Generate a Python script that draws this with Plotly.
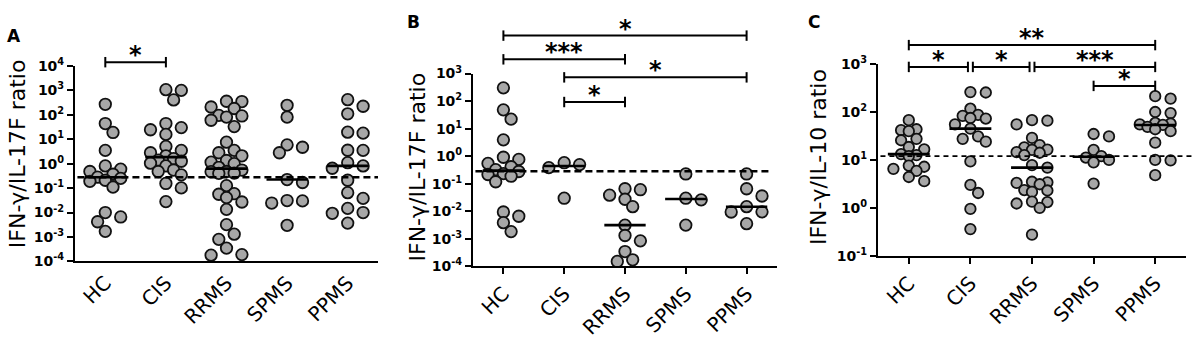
import numpy as np
import plotly.graph_objects as go

W, H = 1192, 351
groups = ["HC", "CIS", "RRMS", "SPMS", "PPMS"]

# ---------------- data (ratios) ----------------
# Panel A : IFN-γ/IL-17F ratio
a_hc = [270, 44, 19, 3.5, 0.81, 0.60, 0.48, 0.37, 0.28, 0.25, 0.21, 0.19, 0.11,
        0.010, 0.0066, 0.0042, 0.0017]
a_cis = [1070, 1000, 407, 44, 30, 24.5, 15.8, 5.1, 3.5, 2.8, 2.1, 1.6, 1.4, 1.26,
         1.05, 0.81, 0.55, 0.48, 0.35, 0.155, 0.102, 0.028]
a_rrms = [360, 350, 209, 182, 95, 90, 81, 60, 33, 7.6, 3.5, 2.8, 2.1, 1.35, 1.15, 1.0,
          0.71, 0.55, 0.48, 0.47, 0.41, 0.40, 0.126, 0.059, 0.056, 0.041, 0.027,
          0.0135, 0.0032, 0.0013, 0.0008, 0.00035, 0.00019, 0.00018]
a_spms = [245, 81, 5.9, 4.7, 2.8, 0.224, 0.17, 0.031, 0.030, 0.0245, 0.003]
a_ppms = [417, 224, 110, 19.5, 17.8, 3.55, 3.5, 1.1, 0.81, 0.65, 0.21, 0.065, 0.038,
          0.0148, 0.010, 0.0093, 0.0037]
a_ref = 0.28
a_sig = [(0, 1, "*")]

# Panel B : IFN-γ/IL-17F ratio
b_hc = [302, 48, 22, 3.9, 0.91, 0.76, 0.54, 0.41, 0.32, 0.275, 0.23, 0.214, 0.186,
        0.117, 0.0093, 0.0065, 0.0038, 0.0018]
b_cis = [0.575, 0.49, 0.38, 0.0295]
b_rrms = [0.065, 0.060, 0.038, 0.027, 0.0145, 0.0031, 0.0013, 0.00083, 0.00034,
          0.00017, 0.000148]
b_spms = [0.224, 0.0295, 0.0257, 0.0031]
b_ppms = [0.224, 0.065, 0.0355, 0.0145, 0.0093, 0.0094, 0.0035]
b_ref = 0.28
b_sig = [(0, 4, "*"), (0, 2, "***"), (1, 4, "*"), (1, 2, "*")]

# Panel C : IFN-γ/IL-10 ratio
c_hc = [67.6, 43.6, 41.7, 39.8, 27.5, 25.7, 18.6, 16.6, 13.2, 12.6, 12.0, 7.6, 7.2,
        6.5, 5.9, 4.4, 3.6]
c_cis = [260, 255, 117, 87, 83, 75, 73, 55, 45, 31, 27.5, 24, 9.3, 3.0, 2.04, 0.95, 0.36]
c_rrms = [67.6, 66, 55, 28.8, 20.4, 18.2, 16.2, 16.4, 14.5, 14.1, 12.6, 7.8, 6.9, 3.5,
          3.4, 3.3, 3.1, 2.35, 2.3, 2.15, 1.35, 1.32, 1.23, 1.0, 0.275]
c_spms = [34.7, 30.9, 16.2, 12.0, 11.2, 10.0, 8.9, 3.2]
c_ppms = [214, 190, 100, 95, 59, 57.5, 55, 53.7, 49, 43.6, 39.8, 22.9, 10.0, 9.8, 4.8]
c_ref = 12
c_sig = [(0, 4, "**"), (0, 1, "*"), (1, 2, "*"), (2, 4, "***"), (3, 4, "*")]

# ---------------- layout geometry (pixels) ----------------
panels = [
    dict(data=[a_hc, a_cis, a_rrms, a_spms, a_ppms], ref=a_ref, sig=a_sig,
         xpx=(75, 378), ypx=(59, 265), yexp=(-4, 4), diam=11.5, xticks="",
         title="IFN-γ/IL-17F ratio", title_xy=(17, 152), letter="A", letter_xy=(14, 27),
         sig_rows=[55], ref_ext=1.0, dash_w=2.5, dash="7px,4px"),
    dict(data=[b_hc, b_cis, b_rrms, b_spms, b_ppms], ref=b_ref, sig=b_sig,
         xpx=(473, 777), ypx=(67, 270), yexp=(-4, 3), diam=11.5, xticks="outside",
         title="IFN-γ/IL-17F ratio", title_xy=(417, 166), letter="B", letter_xy=(413, 13),
         sig_rows=[27, 52, 71, 97], ref_ext=0.98, dash_w=2.5, dash="7px,4px"),
    dict(data=[c_hc, c_cis, c_rrms, c_spms, c_ppms], ref=c_ref, sig=c_sig,
         xpx=(878, 1186), ypx=(57, 259), yexp=(-1, 3), diam=10.5, xticks="outside",
         title="IFN-γ/IL-10 ratio", title_xy=(818, 155), letter="C", letter_xy=(814, 13),
         sig_rows=[37, 60, 60, 60, 80], ref_ext=1.03, dash_w=1.8, dash="5px,4px"),
]

FONT = "DejaVu Sans, Liberation Sans, Arial, sans-serif"
FILL = "#a7a7a7"


def swarm(vals, px_dec, px_unit, diam, step=7.7, kmax=2):
    logs = np.log10(np.asarray(vals, dtype=float))
    order = np.argsort(-logs, kind="stable")
    cands = [0]
    for k in range(1, kmax + 1):
        cands += [k, -k]
    placed = []
    offs = np.zeros(len(logs))
    for i in order:
        y = logs[i] * px_dec
        best, bestd = 0.0, -1.0
        for k in cands:
            x = k * step
            d = min([np.hypot(x - px, y - py) for px, py in placed] + [1e9])
            if d >= 0.95 * diam:
                best = x
                break
            if d > bestd + 0.5:
                bestd, best = d, x
        placed.append((best, y))
        offs[i] = best / px_unit
    return offs


fig = go.Figure()
shapes, annotations = [], []

for p_i, p in enumerate(panels):
    sfx = "" if p_i == 0 else str(p_i + 1)
    xa, ya = "x" + sfx, "y" + sfx
    x0, x1 = p["xpx"]
    ytop, ybot = p["ypx"]
    e0, e1 = p["yexp"]
    px_unit = (x1 - x0) / 5.0
    px_dec = (ybot - ytop) / float(e1 - e0)

    # dots
    for g, vals in enumerate(p["data"]):
        offs = swarm(vals, px_dec, px_unit, p["diam"])
        fig.add_trace(go.Scatter(
            x=g + offs, y=vals, mode="markers", xaxis=xa, yaxis=ya,
            marker=dict(size=p["diam"], color=FILL, line=dict(color="#111111", width=1.8)),
            showlegend=False, hoverinfo="y", cliponaxis=False))
    # medians
    for g, vals in enumerate(p["data"]):
        med = float(np.median(vals))
        fig.add_trace(go.Scatter(
            x=[g - 0.34, g + 0.34], y=[med, med], mode="lines", xaxis=xa, yaxis=ya,
            line=dict(color="#000000", width=2.6), showlegend=False, hoverinfo="skip"))

    # dashed reference line
    shapes.append(dict(type="line", xref=xa + " domain", yref=ya, x0=0.008, x1=p["ref_ext"],
                       y0=p["ref"], y1=p["ref"],
                       line=dict(color="#000000", width=p["dash_w"], dash=p["dash"])))

    # significance bars
    for (ga, gb, lab), row in zip(p["sig"], p["sig_rows"]):
        yb = 1 - row / H
        tk = 5.5 / H
        gap = 0.04
        same = [s for s, r in zip(p["sig"], p["sig_rows"]) if r == row]
        xa0 = ga + (gap if any(s[1] == ga for s in same) else 0)
        xb0 = gb - (gap if any(s[0] == gb for s in same) else 0)
        shapes.append(dict(type="line", xref=xa, yref="paper", x0=xa0, x1=xb0, y0=yb, y1=yb,
                           line=dict(color="#000", width=2)))
        for xe in (xa0, xb0):
            shapes.append(dict(type="line", xref=xa, yref="paper", x0=xe, x1=xe,
                               y0=yb - tk, y1=yb + tk, line=dict(color="#000", width=2)))
        annotations.append(dict(x=(xa0 + xb0) / 2, y=yb, xref=xa, yref="paper", text="<b>" + lab + "</b>",
                                showarrow=False, xanchor="center", yanchor="bottom", yshift=-9,
                                font=dict(family=FONT, size=24, color="#000")))

    # axis titles and panel letters
    tx, ty = p["title_xy"]
    annotations.append(dict(x=tx / W, y=1 - ty / H, xref="paper", yref="paper", text=p["title"],
                            textangle=-90, showarrow=False, xanchor="center", yanchor="middle",
                            font=dict(family=FONT, size=22, color="#000")))
    lx, ly = p["letter_xy"]
    annotations.append(dict(x=lx / W, y=1 - ly / H, xref="paper", yref="paper",
                            text="<b>" + p["letter"] + "</b>", showarrow=False,
                            xanchor="center", yanchor="middle",
                            font=dict(family=FONT, size=17, color="#000")))

    exps = list(range(e0, e1 + 1))
    fig.update_layout({
        "xaxis" + sfx: dict(domain=[x0 / W, x1 / W], anchor=ya, range=[-0.5, 4.5],
                            tickvals=list(range(5)), ticktext=groups, tickangle=-45,
                            showline=True, linecolor="#000", linewidth=2, mirror=False,
                            ticks=p["xticks"], ticklen=6, tickwidth=2, tickcolor="#000",
                            showgrid=False, zeroline=False,
                            tickfont=dict(family=FONT, size=20, color="#000")),
        "yaxis" + sfx: dict(domain=[1 - ybot / H, 1 - ytop / H], anchor=xa, type="log",
                            range=[e0, e1], tickvals=[10.0 ** e for e in exps],
                            ticktext=["<b>10<sup>%d</sup></b>" % e for e in exps],
                            showline=True, linecolor="#000", linewidth=2,
                            ticks="outside", ticklen=6, tickwidth=2, tickcolor="#000",
                            showgrid=False, zeroline=False, ticklabelstandoff=0,
                            tickfont=dict(family=FONT, size=14, color="#000")),
    })

fig.update_layout(width=W, height=H, margin=dict(l=0, r=0, t=0, b=0),
                  paper_bgcolor="white", plot_bgcolor="white",
                  shapes=shapes, annotations=annotations, showlegend=False)

fig.write_html("out.html", config={"displayModeBar": False},
               post_script="document.body.style.margin='0px';document.body.style.overflow='hidden';")
